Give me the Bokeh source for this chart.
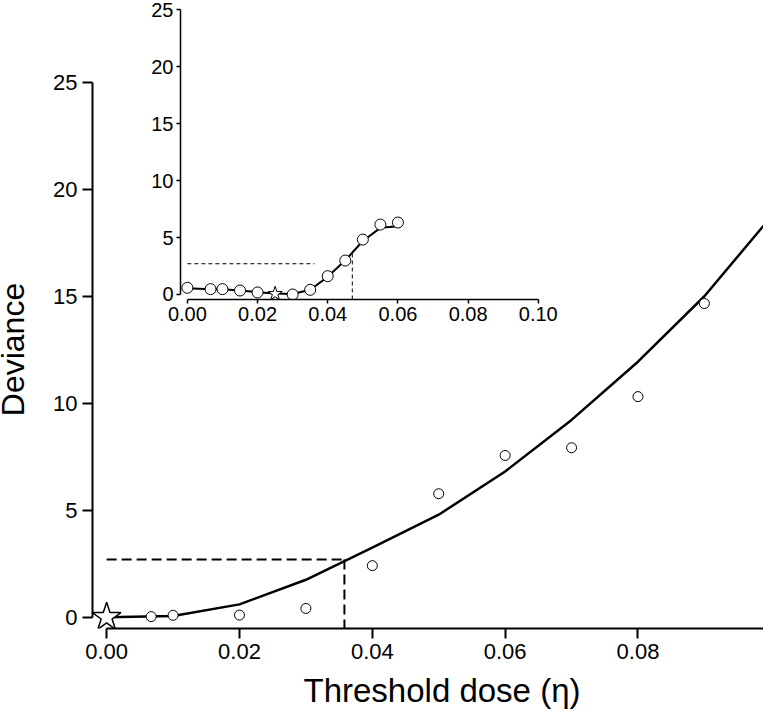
from bokeh.plotting import figure
from bokeh.layouts import column
from bokeh.models import Range1d, FixedTicker, NumeralTickFormatter, Label, Title
from bokeh.embed import file_html
from bokeh.resources import INLINE

FONT = "Liberation Sans"

# ---- main panel data ----
main_pts_x = [0.0067, 0.01, 0.02, 0.03, 0.04, 0.05, 0.06, 0.07, 0.08, 0.09]
main_pts_y = [0.03, 0.09, 0.10, 0.41, 2.41, 5.77, 7.56, 7.92, 10.31, 14.66]
main_curve_x = [0.0, 0.01, 0.02, 0.03, 0.04, 0.05, 0.06, 0.07, 0.08, 0.09, 0.10]
main_curve_y = [0.0, 0.06, 0.6, 1.75, 3.25, 4.79, 6.81, 9.22, 11.94, 15.0, 18.7]
main_star_x = [0.0]
main_star_y = [0.0]
main_ci_level = 2.7
main_ci_x = 0.0358

# ---- inset data ----
inset_pts_x = [0.0, 0.0066, 0.01, 0.015, 0.02, 0.03, 0.035, 0.04, 0.045, 0.05, 0.055, 0.06]
inset_pts_y = [0.59, 0.47, 0.47, 0.35, 0.18, 0.0, 0.41, 1.61, 2.98, 4.82, 6.14, 6.32]
inset_curve_x = [0.0, 0.0066, 0.01, 0.015, 0.02, 0.025, 0.03, 0.035, 0.04, 0.045, 0.05, 0.055, 0.06]
inset_curve_y = [0.55, 0.47, 0.45, 0.35, 0.2, 0.08, 0.05, 0.42, 1.55, 3.0, 4.7, 5.85, 6.0]
inset_star_x = [0.025]
inset_star_y = [0.06]
inset_ci_level = 2.7
inset_ci_hx = 0.0362
inset_ci_vx = 0.047
inset_ci_vy = 3.6

x_ticks = [0.0, 0.02, 0.04, 0.06, 0.08, 0.10]
y_ticks = [0, 5, 10, 15, 20, 25]


def style_axes(fig, lw, tick_out, label_px, standoff):
    for ax in (fig.xaxis[0], fig.yaxis[0]):
        ax.axis_line_width = lw
        ax.axis_line_color = "black"
        ax.major_tick_line_width = lw
        ax.major_tick_line_color = "black"
        ax.major_tick_in = 0
        ax.major_tick_out = tick_out
        ax.minor_tick_line_color = None
        ax.major_label_text_font = FONT
        ax.major_label_text_font_size = f"{label_px}px"
        ax.major_label_text_color = "black"
        ax.major_label_standoff = standoff
    fig.xaxis[0].ticker = FixedTicker(ticks=x_ticks)
    fig.xaxis[0].formatter = NumeralTickFormatter(format="0.00")
    fig.xaxis[0].bounds = (0, 0.10)
    fig.yaxis[0].ticker = FixedTicker(ticks=y_ticks)
    fig.yaxis[0].bounds = (0, 25)
    fig.xgrid.grid_line_color = None
    fig.ygrid.grid_line_color = None
    fig.outline_line_color = None


# ---------------- main figure ----------------
p = figure(width=771, height=716,
           x_range=Range1d(-0.00213, 0.0989), y_range=Range1d(-0.527, 25.55),
           output_backend="svg", toolbar_location=None,
           min_border_left=94, min_border_right=0, min_border_top=70, min_border_bottom=87)
style_axes(p, 2, 10, 22, 5)
p.background_fill_alpha = 0
p.border_fill_alpha = 0
p.yaxis[0].axis_label = "Deviance"
p.yaxis[0].axis_label_text_font = FONT
p.yaxis[0].axis_label_text_font_size = "32px"
p.yaxis[0].axis_label_text_font_style = "normal"
p.yaxis[0].axis_label_text_color = "black"
p.yaxis[0].axis_label_standoff = 19

p.line([0, main_ci_x], [main_ci_level, main_ci_level], line_color="black",
       line_width=2, line_dash="10 5")
p.line([main_ci_x, main_ci_x], [main_ci_level, -0.527], line_color="black",
       line_width=2, line_dash="10 5")
p.line(main_curve_x, main_curve_y, line_color="black", line_width=2.5)
p.scatter(main_pts_x, main_pts_y, marker="circle", size=10, fill_color="white",
          line_color="black", line_width=1)
p.scatter(main_star_x, main_star_y, marker="star", size=30, fill_color="white",
          line_color="black", line_width=1.5)

p.add_layout(Title(text="Threshold dose (\u03b7)", align="left", offset=211,
                   text_font=FONT, text_font_size="33px", text_font_style="normal",
                   text_color="black", text_line_height=1.0, standoff=16), "below")
p.add_layout(Label(x=0.10, y=-2.1, text="0.10", text_align="center",
                   text_baseline="alphabetic", text_font=FONT,
                   text_font_size="22px", text_color="black"))

# ---------------- inset figure ----------------
ins = figure(width=484, height=331,
             x_range=Range1d(-0.00196, 0.10747), y_range=Range1d(-0.44, 25.64),
             output_backend="svg", toolbar_location=None,
             min_border_left=94, min_border_right=0, min_border_top=2, min_border_bottom=32)
style_axes(ins, 1.5, 4, 20, 3)
ins.background_fill_alpha = 0
ins.border_fill_alpha = 0

ins.line([0, inset_ci_hx], [inset_ci_level, inset_ci_level], line_color="black",
         line_width=1, line_dash="4 3")
ins.line([inset_ci_vx, inset_ci_vx], [inset_ci_vy, -0.44], line_color="black",
         line_width=1, line_dash="4 3")
ins.line(inset_curve_x, inset_curve_y, line_color="black", line_width=2)
ins.scatter(inset_pts_x, inset_pts_y, marker="circle", size=11, fill_color="white",
            line_color="black", line_width=1)
ins.scatter(inset_star_x, inset_star_y, marker="star", size=15, fill_color="white",
            line_color="black", line_width=1)

ins.margin = (0, 0, 0, 88)
p.margin = (-331, 0, 0, 0)
root = column(ins, p)
root.margin = (0, -8, -8, -8)

open("out.html", "w").write(file_html(root, INLINE))
